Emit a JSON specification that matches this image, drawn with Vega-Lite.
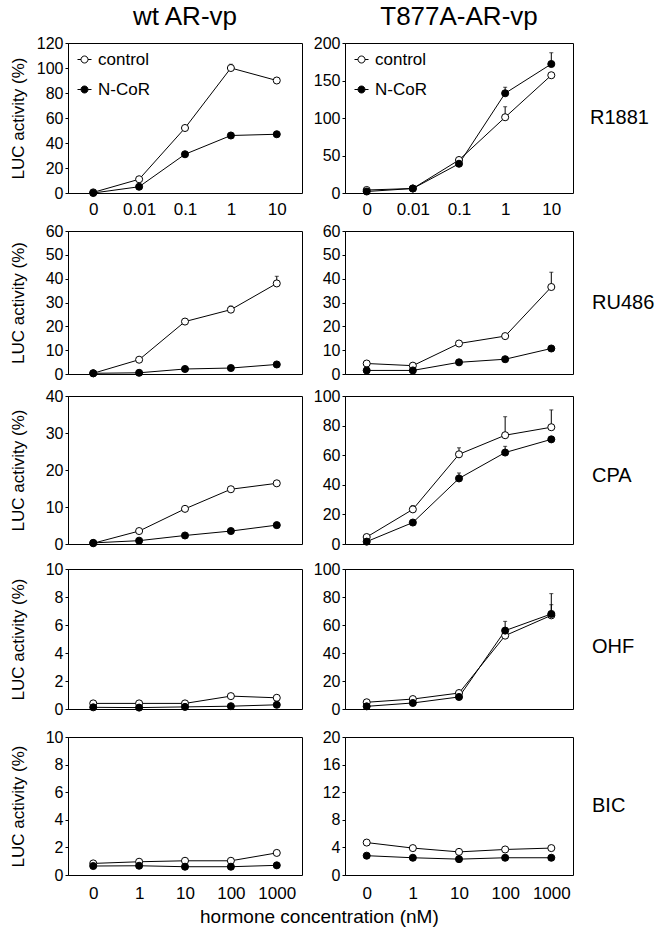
{
  "$schema": "https://vega.github.io/schema/vega-lite/v6.json",
  "padding": {"left": 8, "top": 3, "right": 5, "bottom": 5},
  "background": "white",
  "datasets": {
    "d": [
      {"panel": "R1881-wt", "group": "control", "conc": "0", "luc": 0.5},
      {"panel": "R1881-wt", "group": "control", "conc": "0.01", "luc": 11},
      {"panel": "R1881-wt", "group": "control", "conc": "0.1", "luc": 52},
      {"panel": "R1881-wt", "group": "control", "conc": "1", "luc": 100, "hi": 103},
      {"panel": "R1881-wt", "group": "control", "conc": "10", "luc": 90},
      {"panel": "R1881-wt", "group": "N-CoR", "conc": "0", "luc": 0},
      {"panel": "R1881-wt", "group": "N-CoR", "conc": "0.01", "luc": 5},
      {"panel": "R1881-wt", "group": "N-CoR", "conc": "0.1", "luc": 31},
      {"panel": "R1881-wt", "group": "N-CoR", "conc": "1", "luc": 46},
      {"panel": "R1881-wt", "group": "N-CoR", "conc": "10", "luc": 47},
      {"panel": "R1881-mut", "group": "control", "conc": "0", "luc": 4},
      {"panel": "R1881-mut", "group": "control", "conc": "0.01", "luc": 6},
      {"panel": "R1881-mut", "group": "control", "conc": "0.1", "luc": 44},
      {"panel": "R1881-mut", "group": "control", "conc": "1", "luc": 101, "hi": 115},
      {"panel": "R1881-mut", "group": "control", "conc": "10", "luc": 157},
      {"panel": "R1881-mut", "group": "N-CoR", "conc": "0", "luc": 2},
      {"panel": "R1881-mut", "group": "N-CoR", "conc": "0.01", "luc": 6},
      {"panel": "R1881-mut", "group": "N-CoR", "conc": "0.1", "luc": 39},
      {"panel": "R1881-mut", "group": "N-CoR", "conc": "1", "luc": 133, "hi": 141},
      {"panel": "R1881-mut", "group": "N-CoR", "conc": "10", "luc": 172, "hi": 187},
      {"panel": "RU486-wt", "group": "control", "conc": "0", "luc": 0.3},
      {"panel": "RU486-wt", "group": "control", "conc": "1", "luc": 6},
      {"panel": "RU486-wt", "group": "control", "conc": "10", "luc": 22},
      {"panel": "RU486-wt", "group": "control", "conc": "100", "luc": 27, "hi": 28.5},
      {"panel": "RU486-wt", "group": "control", "conc": "1000", "luc": 38, "hi": 41},
      {"panel": "RU486-wt", "group": "N-CoR", "conc": "0", "luc": 0.3},
      {"panel": "RU486-wt", "group": "N-CoR", "conc": "1", "luc": 0.5},
      {"panel": "RU486-wt", "group": "N-CoR", "conc": "10", "luc": 2.1},
      {"panel": "RU486-wt", "group": "N-CoR", "conc": "100", "luc": 2.5},
      {"panel": "RU486-wt", "group": "N-CoR", "conc": "1000", "luc": 4},
      {"panel": "RU486-mut", "group": "control", "conc": "0", "luc": 4.4},
      {"panel": "RU486-mut", "group": "control", "conc": "1", "luc": 3.5},
      {"panel": "RU486-mut", "group": "control", "conc": "10", "luc": 12.8},
      {"panel": "RU486-mut", "group": "control", "conc": "100", "luc": 15.9},
      {"panel": "RU486-mut", "group": "control", "conc": "1000", "luc": 36.5, "hi": 42.7},
      {"panel": "RU486-mut", "group": "N-CoR", "conc": "0", "luc": 1.5},
      {"panel": "RU486-mut", "group": "N-CoR", "conc": "1", "luc": 1.5},
      {"panel": "RU486-mut", "group": "N-CoR", "conc": "10", "luc": 4.9},
      {"panel": "RU486-mut", "group": "N-CoR", "conc": "100", "luc": 6.2},
      {"panel": "RU486-mut", "group": "N-CoR", "conc": "1000", "luc": 10.7},
      {"panel": "CPA-wt", "group": "control", "conc": "0", "luc": 0.2},
      {"panel": "CPA-wt", "group": "control", "conc": "1", "luc": 3.5},
      {"panel": "CPA-wt", "group": "control", "conc": "10", "luc": 9.5},
      {"panel": "CPA-wt", "group": "control", "conc": "100", "luc": 14.8},
      {"panel": "CPA-wt", "group": "control", "conc": "1000", "luc": 16.4},
      {"panel": "CPA-wt", "group": "N-CoR", "conc": "0", "luc": 0.3},
      {"panel": "CPA-wt", "group": "N-CoR", "conc": "1", "luc": 0.9},
      {"panel": "CPA-wt", "group": "N-CoR", "conc": "10", "luc": 2.3},
      {"panel": "CPA-wt", "group": "N-CoR", "conc": "100", "luc": 3.5},
      {"panel": "CPA-wt", "group": "N-CoR", "conc": "1000", "luc": 5.1},
      {"panel": "CPA-mut", "group": "control", "conc": "0", "luc": 4.7},
      {"panel": "CPA-mut", "group": "control", "conc": "1", "luc": 23.4, "hi": 26},
      {"panel": "CPA-mut", "group": "control", "conc": "10", "luc": 60.6, "hi": 65},
      {"panel": "CPA-mut", "group": "control", "conc": "100", "luc": 73.5, "hi": 86},
      {"panel": "CPA-mut", "group": "control", "conc": "1000", "luc": 78.9, "hi": 90.6},
      {"panel": "CPA-mut", "group": "N-CoR", "conc": "0", "luc": 1.6},
      {"panel": "CPA-mut", "group": "N-CoR", "conc": "1", "luc": 14.5},
      {"panel": "CPA-mut", "group": "N-CoR", "conc": "10", "luc": 44.3, "hi": 48},
      {"panel": "CPA-mut", "group": "N-CoR", "conc": "100", "luc": 61.8, "hi": 66},
      {"panel": "CPA-mut", "group": "N-CoR", "conc": "1000", "luc": 70.7},
      {"panel": "OHF-wt", "group": "control", "conc": "0", "luc": 0.4},
      {"panel": "OHF-wt", "group": "control", "conc": "1", "luc": 0.4},
      {"panel": "OHF-wt", "group": "control", "conc": "10", "luc": 0.4},
      {"panel": "OHF-wt", "group": "control", "conc": "100", "luc": 0.92},
      {"panel": "OHF-wt", "group": "control", "conc": "1000", "luc": 0.8},
      {"panel": "OHF-wt", "group": "N-CoR", "conc": "0", "luc": 0.12},
      {"panel": "OHF-wt", "group": "N-CoR", "conc": "1", "luc": 0.1},
      {"panel": "OHF-wt", "group": "N-CoR", "conc": "10", "luc": 0.15},
      {"panel": "OHF-wt", "group": "N-CoR", "conc": "100", "luc": 0.2},
      {"panel": "OHF-wt", "group": "N-CoR", "conc": "1000", "luc": 0.3},
      {"panel": "OHF-mut", "group": "control", "conc": "0", "luc": 4.8},
      {"panel": "OHF-mut", "group": "control", "conc": "1", "luc": 7.1},
      {"panel": "OHF-mut", "group": "control", "conc": "10", "luc": 11.4},
      {"panel": "OHF-mut", "group": "control", "conc": "100", "luc": 52.4},
      {"panel": "OHF-mut", "group": "control", "conc": "1000", "luc": 66.9, "hi": 74.5},
      {"panel": "OHF-mut", "group": "N-CoR", "conc": "0", "luc": 1.9},
      {"panel": "OHF-mut", "group": "N-CoR", "conc": "1", "luc": 4.3},
      {"panel": "OHF-mut", "group": "N-CoR", "conc": "10", "luc": 8.6},
      {"panel": "OHF-mut", "group": "N-CoR", "conc": "100", "luc": 56, "hi": 62.6},
      {"panel": "OHF-mut", "group": "N-CoR", "conc": "1000", "luc": 67.9, "hi": 82.4},
      {"panel": "BIC-wt", "group": "control", "conc": "0", "luc": 0.84},
      {"panel": "BIC-wt", "group": "control", "conc": "1", "luc": 0.96},
      {"panel": "BIC-wt", "group": "control", "conc": "10", "luc": 1.03},
      {"panel": "BIC-wt", "group": "control", "conc": "100", "luc": 1.03},
      {"panel": "BIC-wt", "group": "control", "conc": "1000", "luc": 1.6},
      {"panel": "BIC-wt", "group": "N-CoR", "conc": "0", "luc": 0.65},
      {"panel": "BIC-wt", "group": "N-CoR", "conc": "1", "luc": 0.67},
      {"panel": "BIC-wt", "group": "N-CoR", "conc": "10", "luc": 0.6},
      {"panel": "BIC-wt", "group": "N-CoR", "conc": "100", "luc": 0.6},
      {"panel": "BIC-wt", "group": "N-CoR", "conc": "1000", "luc": 0.7},
      {"panel": "BIC-mut", "group": "control", "conc": "0", "luc": 4.7},
      {"panel": "BIC-mut", "group": "control", "conc": "1", "luc": 3.9},
      {"panel": "BIC-mut", "group": "control", "conc": "10", "luc": 3.35},
      {"panel": "BIC-mut", "group": "control", "conc": "100", "luc": 3.7},
      {"panel": "BIC-mut", "group": "control", "conc": "1000", "luc": 3.9},
      {"panel": "BIC-mut", "group": "N-CoR", "conc": "0", "luc": 2.8},
      {"panel": "BIC-mut", "group": "N-CoR", "conc": "1", "luc": 2.5},
      {"panel": "BIC-mut", "group": "N-CoR", "conc": "10", "luc": 2.3},
      {"panel": "BIC-mut", "group": "N-CoR", "conc": "100", "luc": 2.5},
      {"panel": "BIC-mut", "group": "N-CoR", "conc": "1000", "luc": 2.5}
    ],
    "labels": [
      {"row": "R1881"}, {"row": "RU486"}, {"row": "CPA"}, {"row": "OHF"}, {"row": "BIC"}
    ]
  },
  "title": {"text": "hormone concentration (nM)", "orient": "bottom", "anchor": "middle", "fontSize": 19, "offset": 6, "dx": -12},
  "spacing": 4,
  "resolve": {"scale": {"fill": "independent"}, "legend": {"fill": "independent"}},
  "vconcat": [
    {
      "hconcat": [
        {
          "width": 234, "height": 150,
          "title": "wt AR-vp",
          "data": {"name": "d"},
          "transform": [{"filter": "datum.panel === 'R1881-wt'"}],
          "encoding": {
            "x": {"field": "conc", "type": "ordinal", "sort": ["0", "0.01", "0.1", "1", "10"], "scale": {"type": "point", "padding": 0.55}, "axis": {"title": null, "labelAngle": 0, "ticks": false, "domain": false, "labelFontSize": 17, "labelPadding": 8}},
            "y": {"field": "luc", "type": "quantitative", "title": "LUC activity (%)", "scale": {"domain": [0, 120], "nice": false}, "axis": {"values": [0, 20, 40, 60, 80, 100, 120], "titleX": -41}}
          },
          "layer": [
            {"mark": {"type": "line", "color": "black", "strokeWidth": 1}, "encoding": {"detail": {"field": "group"}}},
            {"transform": [{"filter": "isValid(datum.hi)"}], "mark": {"type": "rule", "color": "black", "strokeWidth": 1}, "encoding": {"y2": {"field": "hi"}}},
            {"transform": [{"filter": "isValid(datum.hi)"}], "mark": {"type": "tick", "color": "black", "size": 4, "thickness": 1}, "encoding": {"y": {"field": "hi", "type": "quantitative", "title": "LUC activity (%)", "axis": {"values": [0, 20, 40, 60, 80, 100, 120], "titleX": -41}}}},
            {"mark": {"type": "point", "shape": "circle", "size": 50, "stroke": "black", "strokeWidth": 1, "opacity": 1, "filled": true}, "encoding": {"fill": {"field": "group", "type": "nominal", "scale": {"domain": ["control", "N-CoR"], "range": ["white", "black"]}, "legend": {"title": null, "orient": "top-left", "offset": 8, "padding": 0, "symbolType": "M-1,0L-0.5,0M0.5,0L1,0M0.5,0A0.5,0.5,0,1,1,-0.5,0A0.5,0.5,0,1,1,0.5,0Z", "symbolSize": 196, "symbolStrokeColor": "black", "symbolStrokeWidth": 1, "symbolOpacity": 1, "labelFontSize": 17, "labelOffset": 5, "rowPadding": 12}}}}
          ]
        },
        {
          "width": 228, "height": 150,
          "title": "T877A-AR-vp",
          "data": {"name": "d"},
          "transform": [{"filter": "datum.panel === 'R1881-mut'"}],
          "encoding": {
            "x": {"field": "conc", "type": "ordinal", "sort": ["0", "0.01", "0.1", "1", "10"], "scale": {"type": "point", "padding": 0.47}, "axis": {"title": null, "labelAngle": 0, "ticks": false, "domain": false, "labelFontSize": 17, "labelPadding": 8}},
            "y": {"field": "luc", "type": "quantitative", "title": null, "scale": {"domain": [0, 200], "nice": false}, "axis": {"values": [0, 50, 100, 150, 200]}}
          },
          "layer": [
            {"mark": {"type": "line", "color": "black", "strokeWidth": 1}, "encoding": {"detail": {"field": "group"}}},
            {"transform": [{"filter": "isValid(datum.hi)"}], "mark": {"type": "rule", "color": "black", "strokeWidth": 1}, "encoding": {"y2": {"field": "hi"}}},
            {"transform": [{"filter": "isValid(datum.hi)"}], "mark": {"type": "tick", "color": "black", "size": 4, "thickness": 1}, "encoding": {"y": {"field": "hi", "type": "quantitative", "title": null, "axis": {"values": [0, 50, 100, 150, 200]}}}},
            {"mark": {"type": "point", "shape": "circle", "size": 50, "stroke": "black", "strokeWidth": 1, "opacity": 1, "filled": true}, "encoding": {"fill": {"field": "group", "type": "nominal", "scale": {"domain": ["control", "N-CoR"], "range": ["white", "black"]}, "legend": {"title": null, "orient": "top-left", "offset": 8, "padding": 0, "symbolType": "M-1,0L-0.5,0M0.5,0L1,0M0.5,0A0.5,0.5,0,1,1,-0.5,0A0.5,0.5,0,1,1,0.5,0Z", "symbolSize": 196, "symbolStrokeColor": "black", "symbolStrokeWidth": 1, "symbolOpacity": 1, "labelFontSize": 17, "labelOffset": 5, "rowPadding": 12}}}}
          ]
        },
        {
          "width": 4, "height": 150, "view": {"stroke": null},
          "data": {"name": "labels"},
          "transform": [{"filter": "datum.row === 'R1881'"}],
          "mark": {"type": "text", "fontSize": 20, "align": "left", "dx": -28, "baseline": "middle", "color": "black"},
          "encoding": {"text": {"field": "row"}}
        }
      ],
      "spacing": 43, "bounds": "flush",
      "resolve": {"scale": {"fill": "independent"}, "legend": {"fill": "independent"}}
    },
    {
      "hconcat": [
        {
          "width": 234, "height": 143,
          "data": {"name": "d"},
          "transform": [{"filter": "datum.panel === 'RU486-wt'"}],
          "encoding": {
            "x": {"field": "conc", "type": "ordinal", "sort": ["0", "1", "10", "100", "1000"], "scale": {"type": "point", "padding": 0.55}, "axis": null},
            "y": {"field": "luc", "type": "quantitative", "title": "LUC activity (%)", "scale": {"domain": [0, 60], "nice": false}, "axis": {"values": [0, 10, 20, 30, 40, 50, 60], "titleX": -41}}
          },
          "layer": [
            {"mark": {"type": "line", "color": "black", "strokeWidth": 1}, "encoding": {"detail": {"field": "group"}}},
            {"transform": [{"filter": "isValid(datum.hi)"}], "mark": {"type": "rule", "color": "black", "strokeWidth": 1}, "encoding": {"y2": {"field": "hi"}}},
            {"transform": [{"filter": "isValid(datum.hi)"}], "mark": {"type": "tick", "color": "black", "size": 4, "thickness": 1}, "encoding": {"y": {"field": "hi", "type": "quantitative", "title": "LUC activity (%)", "axis": {"values": [0, 10, 20, 30, 40, 50, 60], "titleX": -41}}}},
            {"mark": {"type": "point", "shape": "circle", "size": 50, "stroke": "black", "strokeWidth": 1, "opacity": 1, "filled": true}, "encoding": {"fill": {"field": "group", "type": "nominal", "scale": {"domain": ["control", "N-CoR"], "range": ["white", "black"]}, "legend": null}}}
          ]
        },
        {
          "width": 228, "height": 143,
          "data": {"name": "d"},
          "transform": [{"filter": "datum.panel === 'RU486-mut'"}],
          "encoding": {
            "x": {"field": "conc", "type": "ordinal", "sort": ["0", "1", "10", "100", "1000"], "scale": {"type": "point", "padding": 0.47}, "axis": null},
            "y": {"field": "luc", "type": "quantitative", "title": null, "scale": {"domain": [0, 60], "nice": false}, "axis": {"values": [0, 10, 20, 30, 40, 50, 60]}}
          },
          "layer": [
            {"mark": {"type": "line", "color": "black", "strokeWidth": 1}, "encoding": {"detail": {"field": "group"}}},
            {"transform": [{"filter": "isValid(datum.hi)"}], "mark": {"type": "rule", "color": "black", "strokeWidth": 1}, "encoding": {"y2": {"field": "hi"}}},
            {"transform": [{"filter": "isValid(datum.hi)"}], "mark": {"type": "tick", "color": "black", "size": 4, "thickness": 1}, "encoding": {"y": {"field": "hi", "type": "quantitative", "title": null, "axis": {"values": [0, 10, 20, 30, 40, 50, 60]}}}},
            {"mark": {"type": "point", "shape": "circle", "size": 50, "stroke": "black", "strokeWidth": 1, "opacity": 1, "filled": true}, "encoding": {"fill": {"field": "group", "type": "nominal", "scale": {"domain": ["control", "N-CoR"], "range": ["white", "black"]}, "legend": null}}}
          ]
        },
        {
          "width": 4, "height": 143, "view": {"stroke": null},
          "data": {"name": "labels"},
          "transform": [{"filter": "datum.row === 'RU486'"}],
          "mark": {"type": "text", "fontSize": 20, "align": "left", "dx": -26, "baseline": "middle", "color": "black"},
          "encoding": {"text": {"field": "row"}}
        }
      ],
      "spacing": 43, "bounds": "flush",
      "resolve": {"scale": {"fill": "independent"}, "legend": {"fill": "independent"}}
    },
    {
      "hconcat": [
        {
          "width": 234, "height": 148,
          "data": {"name": "d"},
          "transform": [{"filter": "datum.panel === 'CPA-wt'"}],
          "encoding": {
            "x": {"field": "conc", "type": "ordinal", "sort": ["0", "1", "10", "100", "1000"], "scale": {"type": "point", "padding": 0.55}, "axis": null},
            "y": {"field": "luc", "type": "quantitative", "title": "LUC activity (%)", "scale": {"domain": [0, 40], "nice": false}, "axis": {"values": [0, 10, 20, 30, 40], "titleX": -41}}
          },
          "layer": [
            {"mark": {"type": "line", "color": "black", "strokeWidth": 1}, "encoding": {"detail": {"field": "group"}}},
            {"mark": {"type": "point", "shape": "circle", "size": 50, "stroke": "black", "strokeWidth": 1, "opacity": 1, "filled": true}, "encoding": {"fill": {"field": "group", "type": "nominal", "scale": {"domain": ["control", "N-CoR"], "range": ["white", "black"]}, "legend": null}}}
          ]
        },
        {
          "width": 228, "height": 148,
          "data": {"name": "d"},
          "transform": [{"filter": "datum.panel === 'CPA-mut'"}],
          "encoding": {
            "x": {"field": "conc", "type": "ordinal", "sort": ["0", "1", "10", "100", "1000"], "scale": {"type": "point", "padding": 0.47}, "axis": null},
            "y": {"field": "luc", "type": "quantitative", "title": null, "scale": {"domain": [0, 100], "nice": false}, "axis": {"values": [0, 20, 40, 60, 80, 100]}}
          },
          "layer": [
            {"mark": {"type": "line", "color": "black", "strokeWidth": 1}, "encoding": {"detail": {"field": "group"}}},
            {"transform": [{"filter": "isValid(datum.hi)"}], "mark": {"type": "rule", "color": "black", "strokeWidth": 1}, "encoding": {"y2": {"field": "hi"}}},
            {"transform": [{"filter": "isValid(datum.hi)"}], "mark": {"type": "tick", "color": "black", "size": 4, "thickness": 1}, "encoding": {"y": {"field": "hi", "type": "quantitative", "title": null, "axis": {"values": [0, 20, 40, 60, 80, 100]}}}},
            {"mark": {"type": "point", "shape": "circle", "size": 50, "stroke": "black", "strokeWidth": 1, "opacity": 1, "filled": true}, "encoding": {"fill": {"field": "group", "type": "nominal", "scale": {"domain": ["control", "N-CoR"], "range": ["white", "black"]}, "legend": null}}}
          ]
        },
        {
          "width": 4, "height": 160, "view": {"stroke": null},
          "data": {"name": "labels"},
          "transform": [{"filter": "datum.row === 'CPA'"}],
          "mark": {"type": "text", "fontSize": 20, "align": "left", "dx": -26, "baseline": "middle", "color": "black"},
          "encoding": {"text": {"field": "row"}}
        }
      ],
      "spacing": 43, "bounds": "flush",
      "resolve": {"scale": {"fill": "independent"}, "legend": {"fill": "independent"}}
    },
    {
      "hconcat": [
        {
          "width": 234, "height": 140,
          "data": {"name": "d"},
          "transform": [{"filter": "datum.panel === 'OHF-wt'"}],
          "encoding": {
            "x": {"field": "conc", "type": "ordinal", "sort": ["0", "1", "10", "100", "1000"], "scale": {"type": "point", "padding": 0.55}, "axis": null},
            "y": {"field": "luc", "type": "quantitative", "title": "LUC activity (%)", "scale": {"domain": [0, 10], "nice": false}, "axis": {"values": [0, 2, 4, 6, 8, 10], "titleX": -41}}
          },
          "layer": [
            {"mark": {"type": "line", "color": "black", "strokeWidth": 1}, "encoding": {"detail": {"field": "group"}}},
            {"mark": {"type": "point", "shape": "circle", "size": 50, "stroke": "black", "strokeWidth": 1, "opacity": 1, "filled": true}, "encoding": {"fill": {"field": "group", "type": "nominal", "scale": {"domain": ["control", "N-CoR"], "range": ["white", "black"]}, "legend": null}}}
          ]
        },
        {
          "width": 228, "height": 140,
          "data": {"name": "d"},
          "transform": [{"filter": "datum.panel === 'OHF-mut'"}],
          "encoding": {
            "x": {"field": "conc", "type": "ordinal", "sort": ["0", "1", "10", "100", "1000"], "scale": {"type": "point", "padding": 0.47}, "axis": null},
            "y": {"field": "luc", "type": "quantitative", "title": null, "scale": {"domain": [0, 100], "nice": false}, "axis": {"values": [0, 20, 40, 60, 80, 100]}}
          },
          "layer": [
            {"mark": {"type": "line", "color": "black", "strokeWidth": 1}, "encoding": {"detail": {"field": "group"}}},
            {"transform": [{"filter": "isValid(datum.hi)"}], "mark": {"type": "rule", "color": "black", "strokeWidth": 1}, "encoding": {"y2": {"field": "hi"}}},
            {"transform": [{"filter": "isValid(datum.hi)"}], "mark": {"type": "tick", "color": "black", "size": 4, "thickness": 1}, "encoding": {"y": {"field": "hi", "type": "quantitative", "title": null, "axis": {"values": [0, 20, 40, 60, 80, 100]}}}},
            {"mark": {"type": "point", "shape": "circle", "size": 50, "stroke": "black", "strokeWidth": 1, "opacity": 1, "filled": true}, "encoding": {"fill": {"field": "group", "type": "nominal", "scale": {"domain": ["control", "N-CoR"], "range": ["white", "black"]}, "legend": null}}}
          ]
        },
        {
          "width": 4, "height": 155, "view": {"stroke": null},
          "data": {"name": "labels"},
          "transform": [{"filter": "datum.row === 'OHF'"}],
          "mark": {"type": "text", "fontSize": 20, "align": "left", "dx": -26, "baseline": "middle", "color": "black"},
          "encoding": {"text": {"field": "row"}}
        }
      ],
      "spacing": 43, "bounds": "flush",
      "resolve": {"scale": {"fill": "independent"}, "legend": {"fill": "independent"}}
    },
    {
      "hconcat": [
        {
          "width": 234, "height": 138,
          "data": {"name": "d"},
          "transform": [{"filter": "datum.panel === 'BIC-wt'"}],
          "encoding": {
            "x": {"field": "conc", "type": "ordinal", "sort": ["0", "1", "10", "100", "1000"], "scale": {"type": "point", "padding": 0.55}, "axis": {"title": null, "labelAngle": 0, "ticks": false, "domain": false, "labelFontSize": 17, "labelPadding": 10}},
            "y": {"field": "luc", "type": "quantitative", "title": "LUC activity (%)", "scale": {"domain": [0, 10], "nice": false}, "axis": {"values": [0, 2, 4, 6, 8, 10], "titleX": -41}}
          },
          "layer": [
            {"mark": {"type": "line", "color": "black", "strokeWidth": 1}, "encoding": {"detail": {"field": "group"}}},
            {"mark": {"type": "point", "shape": "circle", "size": 50, "stroke": "black", "strokeWidth": 1, "opacity": 1, "filled": true}, "encoding": {"fill": {"field": "group", "type": "nominal", "scale": {"domain": ["control", "N-CoR"], "range": ["white", "black"]}, "legend": null}}}
          ]
        },
        {
          "width": 228, "height": 138,
          "data": {"name": "d"},
          "transform": [{"filter": "datum.panel === 'BIC-mut'"}],
          "encoding": {
            "x": {"field": "conc", "type": "ordinal", "sort": ["0", "1", "10", "100", "1000"], "scale": {"type": "point", "padding": 0.47}, "axis": {"title": null, "labelAngle": 0, "ticks": false, "domain": false, "labelFontSize": 17, "labelPadding": 10}},
            "y": {"field": "luc", "type": "quantitative", "title": null, "scale": {"domain": [0, 20], "nice": false}, "axis": {"values": [0, 4, 8, 12, 16, 20]}}
          },
          "layer": [
            {"mark": {"type": "line", "color": "black", "strokeWidth": 1}, "encoding": {"detail": {"field": "group"}}},
            {"mark": {"type": "point", "shape": "circle", "size": 50, "stroke": "black", "strokeWidth": 1, "opacity": 1, "filled": true}, "encoding": {"fill": {"field": "group", "type": "nominal", "scale": {"domain": ["control", "N-CoR"], "range": ["white", "black"]}, "legend": null}}}
          ]
        },
        {
          "width": 4, "height": 138, "view": {"stroke": null},
          "data": {"name": "labels"},
          "transform": [{"filter": "datum.row === 'BIC'"}],
          "mark": {"type": "text", "fontSize": 20, "align": "left", "dx": -26, "baseline": "middle", "color": "black"},
          "encoding": {"text": {"field": "row"}}
        }
      ],
      "spacing": 43, "bounds": "flush",
      "resolve": {"scale": {"fill": "independent"}, "legend": {"fill": "independent"}}
    }
  ],
  "config": {
    "font": "Liberation Sans",
    "view": {"stroke": "black", "strokeWidth": 1},
    "axis": {"grid": false, "domainColor": "black", "domainWidth": 1, "tickColor": "black", "tickSize": 3, "labelColor": "black", "titleColor": "black", "labelFont": "Liberation Sans", "titleFont": "Liberation Sans", "labelFontSize": 16, "titleFontSize": 17, "titleFontWeight": "normal", "labelPadding": 2, "labelOverlap": false, "labelFlush": false},
    "legend": {"labelFont": "Liberation Sans", "labelColor": "black"},
    "title": {"font": "Liberation Sans", "fontSize": 26, "fontWeight": "normal", "color": "black", "offset": 5},
    "text": {"font": "Liberation Sans"}
  }
}
